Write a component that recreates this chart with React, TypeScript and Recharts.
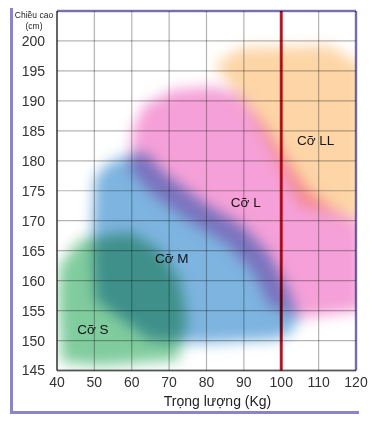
import {
  CartesianGrid,
  ReferenceLine,
  Scatter,
  ScatterChart,
  XAxis,
  YAxis,
} from 'recharts'

// weight (kg) / height (cm) outlines of each size zone
const sizeLL = [
  [82.2, 196], [88.9, 198.8], [113, 199.2], [120, 196.5], [121.6, 195.2],
  [121.6, 170.1], [105, 172.6], [91.6, 188.5],
]
const sizeL = [
  [60.3, 185.2], [63.5, 189.4], [71.6, 191.9], [82.2, 192.3], [88.9, 191.1],
  [95.6, 186], [100.2, 181.5], [106.8, 175.2], [114.3, 171.8], [121.6, 169.8],
  [121.6, 155.1], [105, 153.8], [96.7, 156], [92.7, 161.3], [85.5, 166.2],
  [75.3, 170], [65.4, 174.5], [59.5, 178.5],
]
const sizeM = [
  [50.2, 177.1], [53.6, 179.6], [58.2, 180.7], [63.3, 181.5], [69.9, 177.3],
  [79.8, 172.8], [90, 169], [97.2, 164.1], [102, 158.3], [104.7, 153.8],
  [102.8, 151.6], [99.6, 150.3], [78.2, 149.6], [64.9, 150.1], [50.2, 156.8],
  [49.4, 168.5],
]
const sizeS = [
  [40.8, 162.6], [46.1, 166.8], [59.5, 168.1], [67.5, 165.1], [72.9, 160.1],
  [74.8, 153.4], [72.4, 146.8], [51.5, 145.8], [41.3, 146.4], [40.3, 156.8],
]
const sizeLabels = [
  { kg: 49.6, cm: 151.9, name: 'Cỡ S' },
  { kg: 70.7, cm: 163.7, name: 'Cỡ M' },
  { kg: 90.5, cm: 173, name: 'Cỡ L' },
  { kg: 109.2, cm: 183.4, name: 'Cỡ LL' },
]
const xTicks = [40, 50, 60, 70, 80, 90, 100, 110, 120]
const yTicks = [145, 150, 155, 160, 165, 170, 175, 180, 185, 190, 195, 200]

const toPts = (arr: number[][]) => arr.map(([kg, cm]) => ({ kg, cm }))

const PURPLE = '#8c84c9'
const FONT = '"Liberation Sans", Arial, sans-serif'

// every layer multiplies onto what is below, so grid and red line show through the zones
const blendCss = `
.recharts-surface g, .recharts-surface path, .recharts-surface line, .recharts-surface text {
  mix-blend-mode: multiply;
}
`

const blob = (color: string) => (p: any) => {
  const pts: { x: number; y: number }[] = p.points || []
  const d = pts.map((q, i) => `${i ? 'L' : 'M'}${q.x},${q.y}`).join('') + 'Z'
  return <path d={d} fill={color} stroke="none" filter="url(#soft)" />
}

const hidden = () => <g />

export default function App() {
  return (
    <div
      style={{
        position: 'absolute',
        left: 0,
        top: 0,
        width: 379,
        height: 423,
        background: '#fff',
        fontFamily: FONT,
      }}
    >
      <style>{blendCss}</style>
      <div
        style={{
          position: 'absolute',
          left: 10,
          top: 8,
          width: 349,
          height: 406,
          boxSizing: 'border-box',
          borderLeft: `3px solid ${PURPLE}`,
          borderBottom: `3px solid ${PURPLE}`,
        }}
      />
      <div style={{ position: 'absolute', left: 0, top: 0 }}>
        <ScatterChart
          width={379}
          height={423}
          margin={{ top: 11, right: 23, bottom: 0, left: 0 }}
        >
          <defs>
            <filter id="soft" x="-30%" y="-30%" width="160%" height="160%">
              <feGaussianBlur stdDeviation="7" />
            </filter>
          </defs>
          <CartesianGrid stroke="#b4b4b4" strokeWidth={1.2} ticks={yTicks} />
          <XAxis
            type="number"
            dataKey="kg"
            domain={[40, 120]}
            ticks={xTicks}
            allowDataOverflow
            height={52.5}
            tickLine={false}
            tickSize={0}
            tickMargin={7}
            stroke="#7a7a7a"
            strokeWidth={2}
            tick={{ fill: '#333', fontSize: 14, fontFamily: FONT }}
            label={{
              content: (props: any) => {
                const vb = props.viewBox || {}
                return (
                  <text
                    x={vb.x + vb.width / 2 + 11}
                    y={vb.y + 35}
                    textAnchor="middle"
                    fill="#222"
                    fontSize={14}
                    fontFamily={FONT}
                  >
                    Trọng lượng (Kg)
                  </text>
                )
              },
            }}
          />
          <YAxis
            type="number"
            dataKey="cm"
            domain={[145, 205]}
            ticks={yTicks}
            allowDataOverflow
            width={57}
            tickLine={false}
            tickSize={0}
            tickMargin={12}
            stroke="#7a7a7a"
            strokeWidth={2}
            tick={{ fill: '#333', fontSize: 14, fontFamily: FONT }}
            label={{
              content: () => (
                <text textAnchor="middle" fill="#222" fontSize={8.5} fontFamily={FONT}>
                  <tspan x={34} y={17.5}>Chiều cao</tspan>
                  <tspan x={34} y={28.5}>(cm)</tspan>
                </text>
              ),
            }}
          />
          <Scatter data={toPts(sizeLL)} line={blob('#fdd5a6')} shape={hidden} isAnimationActive={false} />
          <Scatter data={toPts(sizeL)} line={blob('#f5a0d8')} shape={hidden} isAnimationActive={false} />
          <Scatter data={toPts(sizeM)} line={blob('#7db4e0')} shape={hidden} isAnimationActive={false} />
          <Scatter data={toPts(sizeS)} line={blob('#80cc9e')} shape={hidden} isAnimationActive={false} />
          <ReferenceLine y={205} stroke={PURPLE} strokeWidth={2.5} />
          <ReferenceLine x={120} stroke={PURPLE} strokeWidth={2.5} />
          <ReferenceLine x={100} stroke="#c8232f" strokeWidth={3} />
          <Scatter
            data={sizeLabels}
            isAnimationActive={false}
            shape={(p: any) => (
              <text
                x={p.cx}
                y={p.cy}
                textAnchor="middle"
                dominantBaseline="central"
                fill="#1a1a1a"
                fontSize={13.5}
                fontFamily={FONT}
              >
                {p.payload.name}
              </text>
            )}
          />
        </ScatterChart>
      </div>
    </div>
  )
}
